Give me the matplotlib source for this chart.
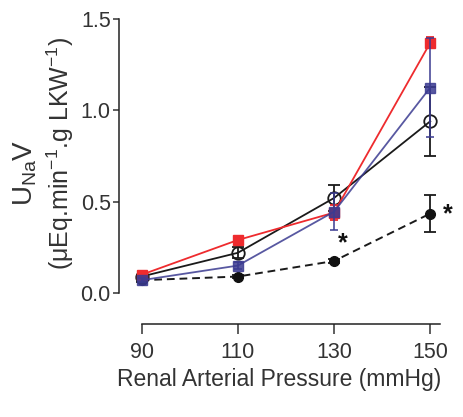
import matplotlib
matplotlib.use("Agg")
import matplotlib.pyplot as plt

plt.rcParams['font.family'] = ['Liberation Sans', 'DejaVu Sans']

pressure = [90, 110, 130, 150]

red_mean = [0.10, 0.29, 0.44, 1.37]
red_err = [0.01, 0.01, 0.04, 0.03]

blue_mean = [0.07, 0.15, 0.445, 1.125]
blue_err = [0.01, 0.02, 0.10, 0.27]

open_mean = [0.09, 0.22, 0.52, 0.94]
open_err = [0.01, 0.03, 0.07, 0.19]

dash_mean = [0.07, 0.09, 0.175, 0.435]
dash_err = [0.01, 0.01, 0.01, 0.10]

star_pos = [(131.8, 0.27), (153.7, 0.43)]

red = '#ee2b2e'
blue = '#3b3b91'

fig = plt.figure(figsize=(4.64, 4.17), dpi=100)
ax = fig.add_axes([0.2565, 0.2974, 0.948 - 0.2565, 0.9544 - 0.2974])

ax.errorbar(pressure, dash_mean, yerr=dash_err, color='#1a1a1a', lw=1.4, ls=(0, (4, 2.5)),
            marker='o', ms=7, mfc='#111111', mec='#111111', capsize=4, elinewidth=1.3,
            capthick=1.3, clip_on=False, zorder=2)
ax.errorbar(pressure, open_mean, yerr=open_err, color='#1a1a1a', lw=1.3,
            marker='o', ms=9, mfc='none', mec='#1a1a1a', mew=1.3, capsize=4, elinewidth=1.3,
            capthick=1.3, clip_on=False, zorder=3)
ax.errorbar(pressure, red_mean, yerr=red_err, color=red, lw=1.3,
            marker='s', ms=6.5, mfc=red, mec=red, capsize=3, elinewidth=1.3,
            capthick=1.3, clip_on=False, zorder=4)
ax.errorbar(pressure, blue_mean, yerr=blue_err, color=blue, lw=1.3,
            marker='s', ms=6.5, mfc=blue, mec=blue, capsize=3, elinewidth=1.3,
            capthick=1.3, clip_on=False, zorder=5, alpha=0.85)

for x, y in star_pos:
    ax.text(x, y, '*', ha='center', va='center', fontsize=18, fontweight='bold',
            color='#111111')

ax.set_xlim(85.3, 152)
ax.set_ylim(0, 1.5)
ax.set_xticks(pressure)
ax.set_yticks([0.0, 0.5, 1.0, 1.5])
ax.set_yticklabels(['0.0', '0.5', '1.0', '1.5'])

for s in ['top', 'right']:
    ax.spines[s].set_visible(False)
ax.spines['left'].set_bounds(0, 1.5)
ax.spines['bottom'].set_bounds(90, 152)
ax.spines['bottom'].set_position(('outward', 22))
for s in ['left', 'bottom']:
    ax.spines[s].set_linewidth(1.1)
    ax.spines[s].set_color('#222222')

ax.tick_params(axis='x', length=7, width=1.1, pad=6, labelsize=15.5, colors='#333333')
ax.tick_params(axis='y', length=4.5, width=1.1, pad=1.5, labelsize=15.5, colors='#333333')

ax.set_xlabel('Renal Arterial Pressure (mmHg)', fontsize=16.5, color='#333333', labelpad=4)

fig.text(0.054, 0.585, r'U$_{\mathregular{Na}}$V', rotation=90, ha='center', va='center',
         fontsize=20, color='#333333')
fig.text(0.129, 0.632, r'($\mathregular{\mu}$Eq.min$^{\mathregular{-1}}$.g LKW$^{\mathregular{-1}}$)',
         rotation=90, ha='center', va='center', fontsize=18, color='#333333')

fig.savefig('out.png', dpi=100)
